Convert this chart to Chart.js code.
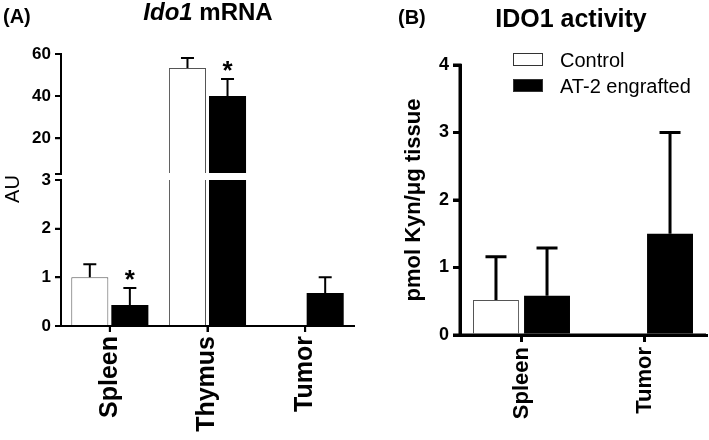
<!DOCTYPE html>
<html>
<head>
<meta charset="utf-8">
<script src="https://cdn.jsdelivr.net/npm/chart.js@4.4.0/dist/chart.umd.min.js"></script>
<style>
  body { margin: 0; background: #fff; width: 709px; height: 440px; position: relative; overflow: hidden; font-family: "Liberation Sans", Arial, sans-serif; color: #000; }
  .abs { position: absolute; white-space: nowrap; }
  canvas { position: absolute; top: 0; }
  .box { position: absolute; width: 30px; height: 13px; box-sizing: border-box; border: 1px solid #333; }
</style>
</head>
<body>
<canvas id="chartALow" width="355" height="440" style="left:0"></canvas>
<canvas id="chartAHigh" width="355" height="440" style="left:0"></canvas>
<canvas id="chartB" width="354" height="440" style="left:355px"></canvas>

<div class="abs" style="left:3px;top:6px;font:bold 20px/20px 'Liberation Sans',Arial;">(A)</div>
<div class="abs" style="left:108px;top:0px;width:200px;text-align:center;font:bold 24px/24px 'Liberation Sans',Arial;"><i>Ido1</i> mRNA</div>
<div class="abs" style="left:-18px;top:177px;width:60px;text-align:center;font:20px/24px 'Liberation Sans',Arial;transform:rotate(-90deg);">AU</div>
<div class="abs" style="left:398px;top:7px;font:bold 20px/20px 'Liberation Sans',Arial;">(B)</div>
<div class="abs" style="left:471px;top:6px;width:200px;text-align:center;font:bold 25px/25px 'Liberation Sans',Arial;">IDO1 activity</div>
<div id="legendB"></div>

<script>
// (A) Ido1 mRNA
const categoriesA = ['Spleen', 'Thymus', 'Tumor'];
const controlA = [1.0, 53.3, null];
const controlErrA = [0.27, 4.8, null];
const at2A = [0.43, 40.0, 0.68];
const at2ErrA = [0.35, 8.1, 0.32];
const starsA = [true, true, false];
const breakA = 3;
const yTicksALow = [0, 1, 2, 3];
const yTicksAHigh = [20, 40, 60];

// (B) IDO1 activity
const categoriesB = ['Spleen', 'Tumor'];
const controlB = [0.52, null];
const controlErrB = [0.64, null];
const at2B = [0.58, 1.50];
const at2ErrB = [0.71, 1.50];
const yTicksB = [0, 1, 2, 3, 4];

const seriesNames = ['Control', 'AT-2 engrafted'];

Chart.defaults.font.family = "'Liberation Sans', Arial, sans-serif";

// html legend for panel B
var legendB = document.getElementById('legendB');
seriesNames.forEach(function (name, i) {
    var top = 53 + i * 26;
    legendB.innerHTML += '<div class="box" style="left:513px;top:' + top + 'px;background:' + (i ? '#000' : '#fff') + '"></div>' +
        '<div class="abs" style="left:560px;top:' + (top - 3) + 'px;font:20px/20px \'Liberation Sans\',Arial;">' + name + '</div>';
});

// upward error bars (+ optional asterisk) drawn from the bar tops
var errorBars = {
    id: 'errorBars',
    afterDatasetsDraw: function (chart, args, opts) {
        var ctx = chart.ctx;
        chart.data.datasets.forEach(function (ds, i) {
            if (!ds.errs) return;
            var meta = chart.getDatasetMeta(i);
            var scale = chart.scales[meta.yAxisID];
            meta.data.forEach(function (bar, j) {
                var v = ds.full[j], e = ds.errs[j];
                if (v == null || e == null || ds.data[j] == null || v > scale.max) return;
                var top = scale.getPixelForValue(v + e);
                ctx.save();
                ctx.strokeStyle = '#000';
                ctx.lineWidth = opts.width;
                ctx.beginPath();
                ctx.moveTo(bar.x, bar.y);
                ctx.lineTo(bar.x, top);
                ctx.moveTo(bar.x - opts.cap / 2, top);
                ctx.lineTo(bar.x + opts.cap / 2, top);
                ctx.stroke();
                if (ds.stars && ds.stars[j]) {
                    ctx.fillStyle = '#000';
                    ctx.font = "bold 26px 'Liberation Sans', Arial";
                    ctx.textAlign = 'center';
                    ctx.fillText('*', bar.x, top);
                }
                ctx.restore();
            });
        });
    }
};

// axis lines + outward tick marks, taken from the chart's own scales
var axisLines = {
    id: 'axisLines',
    afterDraw: function (chart, args, opts) {
        var ctx = chart.ctx, a = chart.chartArea, w = opts.width, len = opts.tick;
        ctx.save();
        ctx.strokeStyle = '#000';
        ctx.lineWidth = w;
        ctx.beginPath();
        Object.keys(chart.scales).forEach(function (id) {
            var s = chart.scales[id];
            if (!s.options.display) return;
            if (s.isHorizontal()) {
                ctx.moveTo(a.left - w / 2, a.bottom);
                ctx.lineTo(a.right, a.bottom);
                s.ticks.forEach(function (t, i) {
                    var x = s.getPixelForTick(i);
                    ctx.moveTo(x, a.bottom);
                    ctx.lineTo(x, a.bottom + len);
                });
            } else {
                ctx.moveTo(a.left, a.top - w / 2);
                ctx.lineTo(a.left, a.bottom + w / 2);
                s.ticks.forEach(function (t) {
                    var y = s.getPixelForValue(t.value);
                    ctx.moveTo(a.left, y);
                    ctx.lineTo(a.left - len, y);
                });
            }
        });
        ctx.stroke();
        ctx.restore();
    }
};

var axisStyle = function (w, len) {
    return {
        grid: {display: true, offset: false, drawOnChartArea: false, drawTicks: true, tickLength: len, color: '#000', lineWidth: w},
        border: {display: true, color: '#000', width: w}
    };
};

var cappedBorder = function (ctx) {
    return controlA[ctx.dataIndex] > breakA ? {top: 0, left: 1, right: 1, bottom: 0} : 1;
};

// panel A, lower part of the broken axis (0..3) with the category axis
new Chart(document.getElementById('chartALow').getContext('2d'), {
    type: 'bar',
    data: {
        labels: categoriesA,
        datasets: [
            {
                label: seriesNames[0],
                data: controlA.map(function (v) { return v == null ? null : Math.min(v, breakA); }),
                full: controlA, errs: controlErrA,
                backgroundColor: '#fff', borderColor: '#555', borderWidth: cappedBorder
            },
            {
                label: seriesNames[1],
                data: at2A.map(function (v) { return v == null ? null : Math.min(v, breakA); }),
                full: at2A, errs: at2ErrA, stars: starsA,
                backgroundColor: '#000', borderColor: '#000', borderWidth: 0
            }
        ]
    },
    options: {
        responsive: false,
        animation: false,
        events: [],
        layout: {padding: {top: 180, right: 1, left: 0, bottom: 0}},
        categoryPercentage: 0.82,
        barPercentage: 0.925,
        plugins: {
            legend: {display: false},
            tooltip: {enabled: false},
            errorBars: {width: 2, cap: 13},
            axisLines: {width: 2, tick: 6}
        },
        scales: {
            x: Object.assign(axisStyle(2, 6), {
                ticks: {color: '#000', font: {size: 25, weight: 'bold'}, maxRotation: 90, minRotation: 90, padding: 4},
                afterFit: function (s) { s.height = 114; }
            }),
            y: Object.assign(axisStyle(2, 6), {
                min: 0, max: breakA, bounds: 'data',
                ticks: {color: '#000', font: {size: 17, weight: 'bold'}, padding: 4},
                afterBuildTicks: function (s) { s.ticks = yTicksALow.map(function (v) { return {value: v}; }); },
                afterFit: function (s) { s.width = 61; }
            })
        }
    },
    plugins: [errorBars, axisLines]
});

// panel A, upper part of the broken axis (3..60)
new Chart(document.getElementById('chartAHigh').getContext('2d'), {
    type: 'bar',
    data: {
        labels: categoriesA,
        datasets: [
            {
                label: seriesNames[0], base: breakA,
                data: controlA.map(function (v) { return v > breakA ? v : null; }),
                full: controlA, errs: controlErrA,
                backgroundColor: '#fff', borderColor: '#555', borderWidth: 1
            },
            {
                label: seriesNames[1], base: breakA,
                data: at2A.map(function (v) { return v > breakA ? v : null; }),
                full: at2A, errs: at2ErrA, stars: starsA,
                backgroundColor: '#000', borderColor: '#000', borderWidth: 0
            }
        ]
    },
    options: {
        responsive: false,
        animation: false,
        events: [],
        layout: {padding: {top: 54, right: 1, left: 0, bottom: 266}},
        categoryPercentage: 0.82,
        barPercentage: 0.925,
        plugins: {
            legend: {display: false},
            tooltip: {enabled: false},
            errorBars: {width: 2, cap: 13},
            axisLines: {width: 2, tick: 6}
        },
        scales: {
            x: {display: false},
            y: Object.assign(axisStyle(2, 6), {
                min: breakA, max: 60, bounds: 'data',
                ticks: {color: '#000', font: {size: 17, weight: 'bold'}, padding: 4},
                afterBuildTicks: function (s) { s.ticks = [breakA].concat(yTicksAHigh).map(function (v) { return {value: v}; }); },
                afterTickToLabelConversion: function (s) {
                    s.ticks.forEach(function (t) { if (t.value === breakA) t.label = ''; });
                },
                afterFit: function (s) { s.width = 61; }
            })
        }
    },
    plugins: [errorBars, axisLines]
});

new Chart(document.getElementById('chartB').getContext('2d'), {
    type: 'bar',
    data: {
        labels: categoriesB,
        datasets: [
            {
                label: seriesNames[0], data: controlB, full: controlB, errs: controlErrB,
                backgroundColor: '#fff', borderColor: '#555', borderWidth: 1
            },
            {
                label: seriesNames[1], data: at2B, full: at2B, errs: at2ErrB,
                backgroundColor: '#000', borderColor: '#000', borderWidth: 0
            }
        ]
    },
    options: {
        responsive: false,
        animation: false,
        events: [],
        layout: {padding: {top: 65, right: 3, left: 42, bottom: 0}},
        categoryPercentage: 0.83,
        barPercentage: 0.9,
        plugins: {
            legend: {display: false},
            tooltip: {enabled: false},
            errorBars: {width: 3, cap: 21},
            axisLines: {width: 3, tick: 7}
        },
        scales: {
            x: Object.assign(axisStyle(3, 7), {
                ticks: {color: '#000', font: {size: 22, weight: 'bold'}, maxRotation: 90, minRotation: 90, padding: 5},
                afterFit: function (s) { s.height = 105; }
            }),
            y: Object.assign(axisStyle(3, 7), {
                min: 0, max: 4, bounds: 'data',
                ticks: {color: '#000', font: {size: 18, weight: 'bold'}, padding: 4},
                afterBuildTicks: function (s) { s.ticks = yTicksB.map(function (v) { return {value: v}; }); },
                title: {display: true, color: '#000', text: 'pmol Kyn/μg tissue', font: {size: 22, weight: 'bold'}, padding: {top: 4, bottom: 0}},
                afterFit: function (s) { s.width = 63; }
            })
        }
    },
    plugins: [errorBars, axisLines]
});
</script>
</body>
</html>
